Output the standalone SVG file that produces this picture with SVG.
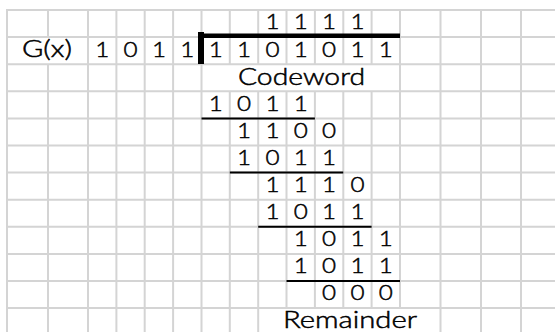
<svg xmlns="http://www.w3.org/2000/svg" width="555" height="332" viewBox="0 0 555 332">
<style>
.grid{fill:none;stroke:#d4d4d4;stroke-width:2}
.ul{stroke:#000;stroke-width:2;fill:none}
.thick{fill:#000}
.t{font-family:Lato,"DejaVu Sans",sans-serif;font-size:22px;font-weight:300;fill:#000;stroke:#000;stroke-width:0.5;text-anchor:middle}
.w{font-size:23px}
</style>
<rect width="555" height="332" fill="#fff"/>
<g id="grid" class="grid">
<path d="M6 10H555M6 37.1H555M6 64.2H555M6 91.3H555M6 118.4H555M6 145.5H555M6 172.6H555M6 199.7H555M6 226.8H555M6 253.9H555M6 281H555M6 308.1H555"/>
<path d="M7 9V332M48 9V37.1M48 64.2V332M88 9V332M116.4 9V332M144.7 9V332M173.1 9V332M201.5 9V332M229.8 9V64.2M229.8 91.3V332M258.2 9V64.2M258.2 91.3V332M286.5 9V64.2M286.5 91.3V308.1M314.9 9V64.2M314.9 91.3V308.1M343.3 9V64.2M343.3 91.3V308.1M371.6 9V64.2M371.6 91.3V308.1M400 9V308.1M440.5 9V332M481 9V332M521 9V332"/>
</g>
<g id="connectors">
<rect class="thick" x="198" y="32" width="6" height="32"/>
<rect class="thick" x="198" y="33.5" width="202" height="4.5"/>
<path class="ul" d="M201.5 118.4H314.9M229.8 172.6H343.3M258.2 226.8H371.6M286.5 281H400"/>
</g>
<g id="labels">
<text id="gx" class="t w" x="47" y="56.6" textLength="50" lengthAdjust="spacingAndGlyphs">G(x)</text>
<text id="codeword" class="t w" x="301.5" y="85" textLength="127" lengthAdjust="spacingAndGlyphs">Codeword</text>
<text id="remainder" class="t w" x="350" y="328" textLength="134" lengthAdjust="spacingAndGlyphs">Remainder</text>
</g>
<g id="digits" transform="scale(1.1,1)">
<text id="quotient" class="t" x="247.64 273.36 299.18 325" y="29.5">1111</text>
<text id="divisor" class="t" x="92.91 118.73 144.45 170.27" y="56.6">1011</text>
<text id="dividend" class="t" x="196.09 221.82 247.64 273.36 299.18 325 350.73" y="56.6">1101011</text>
<text id="r3" class="t" x="196.09 221.82 247.64 273.36" y="110.8">1011</text>
<text id="r4" class="t" x="221.82 247.64 273.36 299.18" y="137.9">1100</text>
<text id="r5" class="t" x="221.82 247.64 273.36 299.18" y="165">1011</text>
<text id="r6" class="t" x="247.64 273.36 299.18 325" y="192.1">1110</text>
<text id="r7" class="t" x="247.64 273.36 299.18 325" y="219.2">1011</text>
<text id="r8" class="t" x="273.36 299.18 325 350.73" y="246.3">1011</text>
<text id="r9" class="t" x="273.36 299.18 325 350.73" y="273.4">1011</text>
<text id="r10" class="t" x="299.18 325 350.73" y="300.5">000</text>
</g>
</svg>
